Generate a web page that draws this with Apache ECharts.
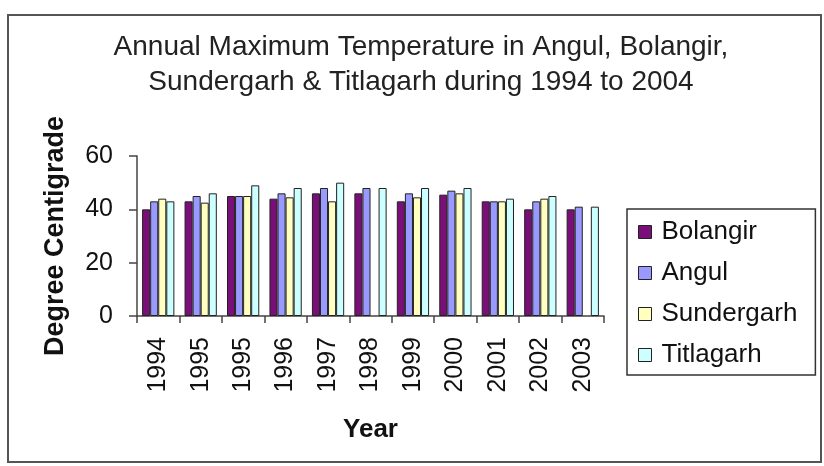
<!DOCTYPE html>
<html>
<head>
<meta charset="utf-8">
<script src="https://cdn.jsdelivr.net/npm/echarts@6/dist/echarts.min.js"></script>
<style>
  html, body { margin: 0; padding: 0; background: #fff; }
  #chart { width: 824px; height: 466px; }
</style>
</head>
<body>
<div id="chart"></div>
<script>
// 年份（1995 在原图中出现两次）
const years = ["1994", "1995", "1995", "1996", "1997", "1998", "1999", "2000", "2001", "2002", "2003"];
const bolangir = [40, 43, 45, 44, 46, 46, 43, 45.5, 43, 40, 40];
const angul = [43, 45, 45, 46, 48, 48, 46, 47, 43, 43, 41];
const sundergarh = [44, 42.5, 45, 44.5, 43, null, 44.5, 46, 43, 44, null];
const titlagarh = [43, 46, 49, 48, 50, 48, 48, 48, 44, 45, 41];
const yTicks = [0, 20, 40, 60];

const fontFamily = "'Liberation Sans', Arial, sans-serif";

const makeSeries = (name, data, color) => ({
  name: name,
  type: "bar",
  data: data,
  barGap: "0%",
  barCategoryGap: "24%",
  itemStyle: {
    color: color,
    borderColor: "#222",
    borderWidth: 1,
  },
});

const chart = echarts.init(document.getElementById("chart"));
chart.setOption({
  animation: false,
  textStyle: { fontFamily: fontFamily },
  title: {
    text: "Annual Maximum Temperature in Angul, Bolangir,\nSundergarh & Titlagarh during 1994 to 2004",
    left: 416,
    top: 25,
    textAlign: "center",
    textStyle: {
      fontSize: 28,
      fontWeight: "normal",
      color: "#222",
      lineHeight: 35,
    },
  },
  legend: {
    orient: "vertical",
    left: 627,
    top: 209,
    padding: [10, 18, 7, 11],
    itemGap: 15,
    itemWidth: 13,
    itemHeight: 13,
    icon: "rect",
    borderColor: "#333",
    borderWidth: 1.5,
    borderRadius: 0,
    itemStyle: { borderColor: "#222", borderWidth: 1 },
    textStyle: {
      fontSize: 26,
      color: "#111",
      lineHeight: 26,
      padding: [0, 0, 0, 5],
    },
  },
  grid: {
    left: 137,
    top: 156,
    width: 467,
    bottom: 150,
    containLabel: false,
  },
  xAxis: {
    type: "category",
    data: years,
    name: "Year",
    nameLocation: "middle",
    nameGap: 101,
    nameTextStyle: { fontSize: 26, fontWeight: "bold", color: "#111" },
    axisLine: { lineStyle: { color: "#444", width: 1.5 } },
    axisTick: { show: true, length: 7, inside: false, alignWithLabel: false, lineStyle: { color: "#444", width: 1.5 } },
    axisLabel: { rotate: 90, fontSize: 25, color: "#111", margin: 21, interval: 0 },
  },
  yAxis: {
    type: "value",
    min: yTicks[0],
    max: yTicks[yTicks.length - 1],
    interval: 20,
    name: "Degree Centigrade",
    nameLocation: "middle",
    nameGap: 68,
    nameRotate: 90,
    nameTextStyle: { fontSize: 27, fontWeight: "bold", color: "#111" },
    axisLine: { show: true, lineStyle: { color: "#444", width: 1.5 } },
    axisTick: { show: true, length: 8, lineStyle: { color: "#444", width: 1.5 } },
    axisLabel: { fontSize: 25, color: "#111", margin: 24 },
    splitLine: { show: false },
  },
  graphic: [
    {
      type: "rect",
      shape: { x: 8, y: 15, width: 813, height: 447 },
      style: { fill: "none", stroke: "#555", lineWidth: 2 },
      silent: true,
    },
  ],
  series: [
    makeSeries("Bolangir", bolangir, "#7a0f7a"),
    makeSeries("Angul", angul, "#9999ff"),
    makeSeries("Sundergarh", sundergarh, "#ffffc0"),
    makeSeries("Titlagarh", titlagarh, "#ccffff"),
  ],
});
</script>
</body>
</html>
